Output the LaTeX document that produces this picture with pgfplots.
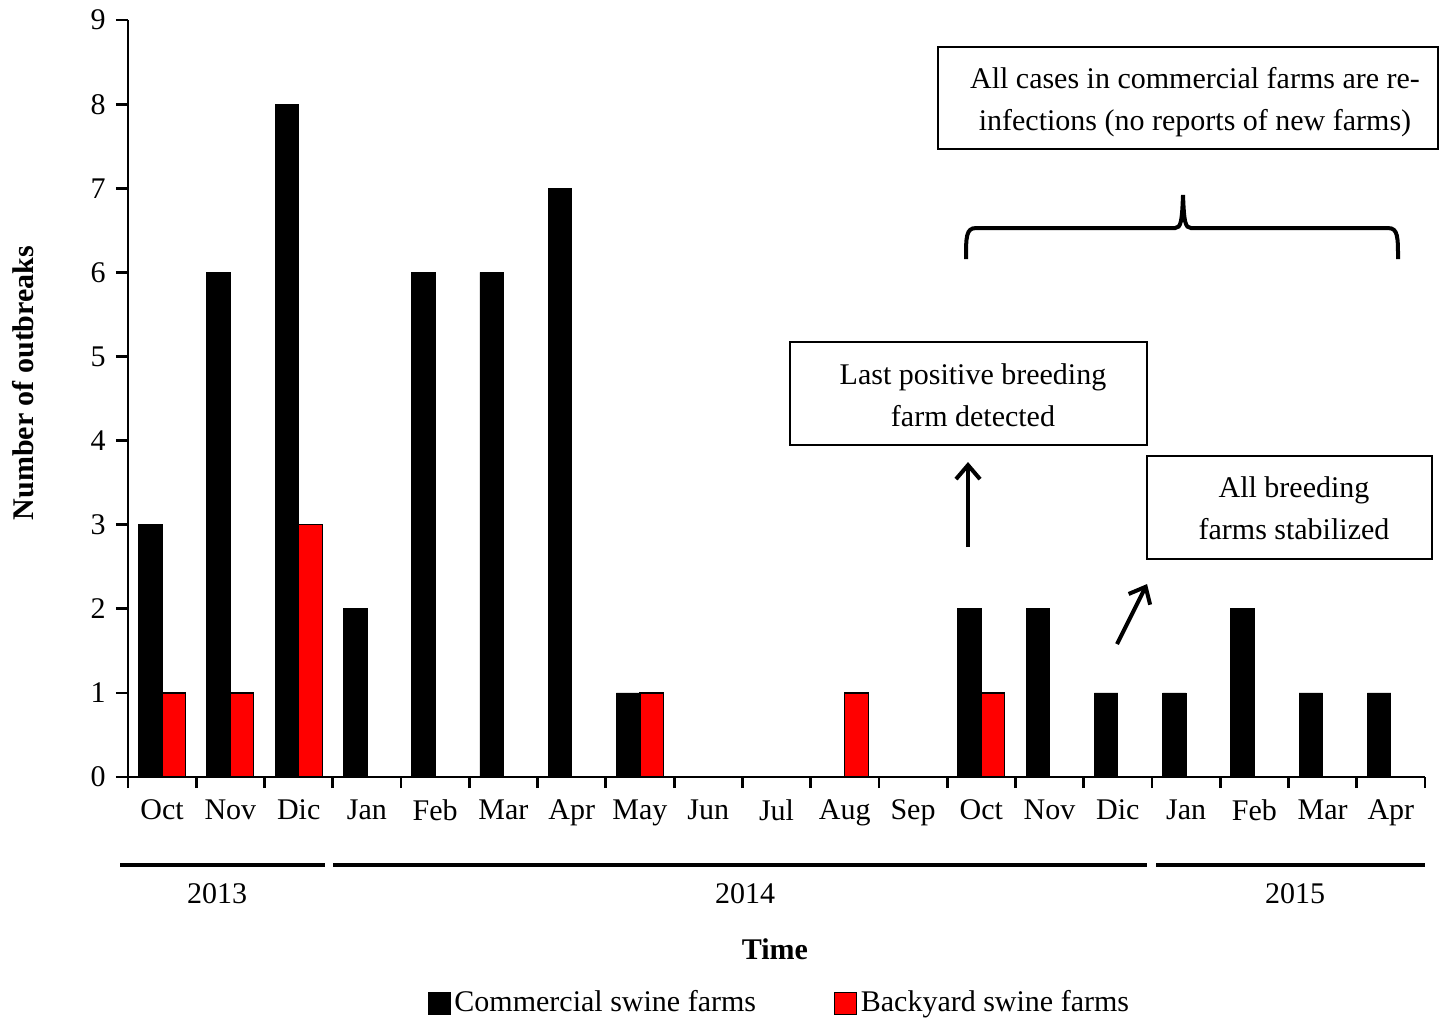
\documentclass[border=0pt]{standalone}
\usepackage{fontspec}
\setmainfont{Liberation Serif}
\usepackage{pgfplots}
\pgfplotsset{compat=1.18}
\usetikzlibrary{arrows.meta}

\begin{document}
\fontsize{15}{21}\selectfont
\begin{tikzpicture}
% page frame, in pixels of the reference (axis origin at 128,776)
\begin{scope}[x=0.5pt,y=-0.5pt,shift={(-64pt,388pt)}]
  \useasboundingbox (0,0) rectangle (1443,1018);
\end{scope}

\begin{axis}[
    at={(0,0)}, anchor=south west,
    scale only axis, width=648.5pt, height=378.5pt,
    ybar=0pt, bar width=11.75pt,
    xmin=-0.5, xmax=18.5, ymin=0, ymax=9,
    axis lines=left, axis line style={-, line width=1.4pt},
    tick align=outside,
    major tick length=6pt, minor tick length=5.5pt,
    xtick={0,...,18},
    xticklabels={Oct,Nov,Dic,Jan,Feb,Mar,Apr,May,Jun,Jul,Aug,Sep,Oct,Nov,Dic,Jan,Feb,Mar,Apr},
    minor xtick={-0.5,0.5,...,18.5},
    major x tick style={draw=none},
    minor x tick style={line width=1.4pt, black},
    ytick={0,...,9},
    y tick style={line width=1.4pt, black},
    /pgf/number format/assume math mode=true,
    xlabel={\textbf{Time}},
    xlabel style={at={(axis description cs:0.4988,-0.227)}, anchor=center},
    ylabel={\textbf{Number of outbreaks}},
    ylabel style={at={(axis description cs:-0.081,0.5205)}, anchor=center, rotate=0},
    legend columns=2,
    legend style={at={(axis description cs:0.503,-0.2985)}, anchor=center,
        draw=none, /tikz/every even column/.append style={column sep=37pt}},
    legend image code/.code={\draw[#1, line width=0.4pt] (0pt,-5.5pt) rectangle (11pt,5.5pt);},
    clip=false,
]
% Commercial swine farms
\addplot[fill=black, draw=black] coordinates {
    (0,3) (1,6) (2,8) (3,2) (4,6) (5,6) (6,7) (7,1) (8,0) (9,0)
    (10,0) (11,0) (12,2) (13,2) (14,1) (15,1) (16,2) (17,1) (18,1)
};
\addlegendentry{Commercial swine farms}
% Backyard swine farms
\addplot[fill=red, draw=black, line width=0.6pt] coordinates {
    (0,1) (1,1) (2,3) (3,0) (4,0) (5,0) (6,0) (7,1) (8,0) (9,0)
    (10,1) (11,0) (12,1) (13,0) (14,0) (15,0) (16,0) (17,0) (18,0)
};
\addlegendentry{Backyard swine farms}
\end{axis}

% annotations, in reference pixels
\begin{scope}[x=0.5pt,y=-0.5pt,shift={(-64pt,388pt)}]
  % years
  \draw[line width=2.2pt] (120,864) -- (325,864);
  \draw[line width=2.2pt] (333,864) -- (1147,864);
  \draw[line width=2.2pt] (1156,864) -- (1425,864);
  \node at (217,893) {2013};
  \node at (745,893) {2014};
  \node at (1295,893) {2015};
  % boxes
  \draw[line width=0.9pt] (938,46) rectangle (1438,148);
  \node[align=center] at (1195,101) {All cases in commercial farms are re-\\infections (no reports of new farms)};
  \draw[line width=0.9pt] (790,341) rectangle (1147,444);
  \node[align=center] at (973,394) {Last positive breeding\\farm detected};
  \draw[line width=0.9pt] (1147,455) rectangle (1432,558);
  \node[align=center] at (1294,507) {All breeding\\farms stabilized};
  % arrows
  \draw[line width=2pt, -{Straight Barb[length=7pt,width=12pt]}] (968,546) -- (968,461);
  \draw[line width=2pt, -{Straight Barb[length=7pt,width=12pt]}] (1117,643) -- (1147,583);
  % brace
  \draw[line width=2pt] (966,258) .. controls (966,236) and (966,227) .. (976,227)
    -- (1175,227) .. controls (1181,227) and (1182,220) .. (1183,194)
    .. controls (1184,220) and (1185,227) .. (1191,227)
    -- (1388,227) .. controls (1398,227) and (1398,236) .. (1398,258);
\end{scope}
\end{tikzpicture}
\end{document}
